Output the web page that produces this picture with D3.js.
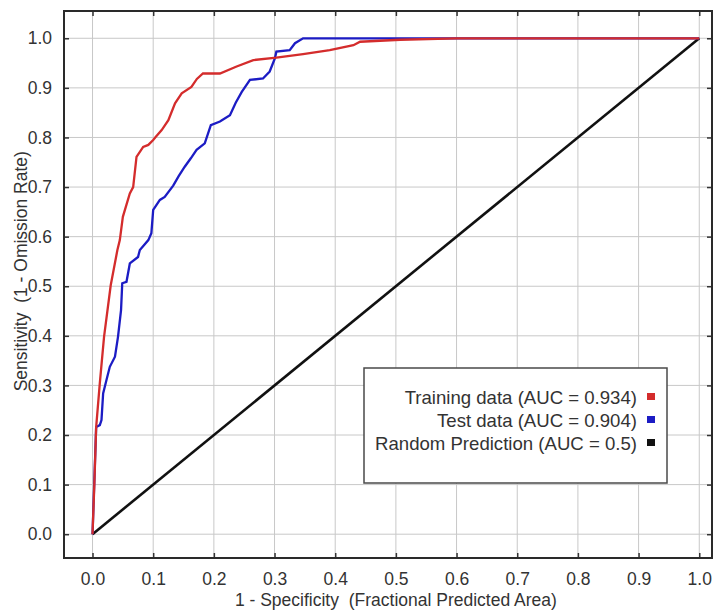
<!DOCTYPE html>
<html>
<head>
<meta charset="utf-8">
<script src="https://cdn.jsdelivr.net/npm/d3@7"></script>
<style>
  html, body { margin: 0; padding: 0; background: #ffffff; }
  svg { display: block; }
  text { font-family: "Liberation Sans", Arial, sans-serif; fill: #333333; white-space: pre; }
</style>
</head>
<body>
<svg id="chart" width="718" height="611"></svg>
<script>
// ---- Data ----
const xTicks = [0.0, 0.1, 0.2, 0.3, 0.4, 0.5, 0.6, 0.7, 0.8, 0.9, 1.0];
const yTicks = [0.0, 0.1, 0.2, 0.3, 0.4, 0.5, 0.6, 0.7, 0.8, 0.9, 1.0];

const trainingX = [0, 0.003, 0.006, 0.012, 0.019, 0.030, 0.041, 0.045, 0.050, 0.0615, 0.067, 0.0725, 0.0835, 0.092, 0.100, 0.104, 0.114, 0.125, 0.136, 0.147, 0.163, 0.172, 0.182, 0.210, 0.2375, 0.265, 0.303, 0.347, 0.391, 0.430, 0.441, 0.507, 0.600, 1.0];
const trainingY = [0, 0.100, 0.216, 0.304, 0.398, 0.502, 0.573, 0.593, 0.640, 0.687, 0.700, 0.761, 0.781, 0.785, 0.795, 0.801, 0.815, 0.835, 0.869, 0.889, 0.902, 0.918, 0.929, 0.929, 0.943, 0.956, 0.961, 0.968, 0.976, 0.986, 0.993, 0.997, 1.0, 1.0];

const testX = [0, 0.006, 0.012, 0.0148, 0.0175, 0.023, 0.0285, 0.037, 0.042, 0.047, 0.049, 0.056, 0.0615, 0.075, 0.078, 0.092, 0.097, 0.100, 0.111, 0.119, 0.133, 0.142, 0.152, 0.162, 0.1715, 0.185, 0.195, 0.210, 0.2265, 0.236, 0.246, 0.2595, 0.281, 0.292, 0.3007, 0.303, 0.325, 0.3337, 0.347, 1.0];
const testY = [0, 0.216, 0.220, 0.230, 0.284, 0.311, 0.3375, 0.358, 0.398, 0.452, 0.506, 0.509, 0.546, 0.559, 0.573, 0.593, 0.607, 0.654, 0.674, 0.680, 0.703, 0.722, 0.741, 0.758, 0.775, 0.788, 0.825, 0.832, 0.845, 0.870, 0.892, 0.916, 0.919, 0.933, 0.960, 0.973, 0.976, 0.990, 1.0, 1.0];

const randomX = [0, 1];
const randomY = [0, 1];

const seriesNames = ["Training data (AUC = 0.934)", "Test data (AUC = 0.904)", "Random Prediction (AUC = 0.5)"];
const seriesColors = ["#d42c2c", "#1c1cc4", "#111111"];

const xTitle = "1 - Specificity  (Fractional Predicted Area)";
const yTitle = "Sensitivity  (1 - Omission Rate)";

// ---- Layout ----
const svg = d3.select("#chart");
const pLeft = 64, pRight = 712, pTop = 11, pBottom = 558;

const x = d3.scaleLinear().domain([-0.047, 1.021]).range([pLeft, pRight]);
const y = d3.scaleLinear().domain([-0.048, 1.055]).range([pBottom, pTop]);

// Plot background
svg.append("rect").attr("x", pLeft).attr("y", pTop)
  .attr("width", pRight - pLeft).attr("height", pBottom - pTop).attr("fill", "#ffffff");

// Grid
const grid = svg.append("g");
grid.selectAll("line.gx").data(xTicks).join("line").attr("class", "gx")
  .attr("x1", d => x(d)).attr("x2", d => x(d))
  .attr("y1", pTop).attr("y2", pBottom)
  .attr("stroke", "#c8c8c8").attr("stroke-width", 1);
grid.selectAll("line.gy").data(yTicks).join("line").attr("class", "gy")
  .attr("y1", d => y(d)).attr("y2", d => y(d))
  .attr("x1", pLeft).attr("x2", pRight)
  .attr("stroke", "#c8c8c8").attr("stroke-width", 1);

// Axes (ticks pointing inward)
const fmt = d3.format(".1f");
const axB = svg.append("g").attr("transform", `translate(0,${pBottom})`)
  .call(d3.axisBottom(x).tickValues(xTicks).tickFormat(fmt).tickSizeInner(-5).tickSizeOuter(0).tickPadding(15));
const axT = svg.append("g").attr("transform", `translate(0,${pTop})`)
  .call(d3.axisTop(x).tickValues(xTicks).tickFormat("").tickSizeInner(-5).tickSizeOuter(0));
const axL = svg.append("g").attr("transform", `translate(${pLeft},0)`)
  .call(d3.axisLeft(y).tickValues(yTicks).tickFormat(fmt).tickSizeInner(-5).tickSizeOuter(0).tickPadding(12));
const axR = svg.append("g").attr("transform", `translate(${pRight},0)`)
  .call(d3.axisRight(y).tickValues(yTicks).tickFormat("").tickSizeInner(-5).tickSizeOuter(0));
[axB, axT, axL, axR].forEach(a => {
  a.select(".domain").remove();
  a.selectAll(".tick line").attr("stroke", "#333").attr("stroke-width", 1.5);
  a.selectAll(".tick text").attr("font-size", 17.5).attr("fill", "#3a3a3a")
    .attr("font-family", "'Liberation Sans', Arial, sans-serif");
});

// Frame
svg.append("rect").attr("x", pLeft).attr("y", pTop)
  .attr("width", pRight - pLeft).attr("height", pBottom - pTop)
  .attr("fill", "none").attr("stroke", "#2a2a2a").attr("stroke-width", 2);

// Lines
const line = d3.line().x(d => x(d[0])).y(d => y(d[1]));
const series = [
  { xs: randomX, ys: randomY, color: seriesColors[2], w: 2.6 },
  { xs: trainingX, ys: trainingY, color: seriesColors[0], w: 2.3 },
  { xs: testX, ys: testY, color: seriesColors[1], w: 2.3 }
];
const plot = svg.append("g");
[series[0], series[2], series[1]].forEach(s => {
  plot.append("path")
    .datum(s.xs.map((v, i) => [v, s.ys[i]]))
    .attr("d", line)
    .attr("fill", "none")
    .attr("stroke", s.color)
    .attr("stroke-width", s.w)
    .attr("stroke-linejoin", "miter");
});

// Axis titles
svg.append("text").attr("x", (x(0) + x(1)) / 2).attr("y", 606)
  .attr("text-anchor", "middle").attr("font-size", 17.5).text(xTitle);
svg.append("text").attr("transform", `translate(27,${(y(0) + y(1)) / 2 - 15}) rotate(-90)`)
  .attr("text-anchor", "middle").attr("font-size", 17.5).text(yTitle);

// Legend
const lg = svg.append("g");
lg.append("rect").attr("x", 364).attr("y", 368).attr("width", 303).attr("height", 115)
  .attr("fill", "#ffffff").attr("stroke", "#4a4a4a").attr("stroke-width", 1.5);
const rowsY = [397, 420, 443];
seriesNames.forEach((name, i) => {
  lg.append("text").attr("x", 637).attr("y", rowsY[i]).attr("dy", "0.35em")
    .attr("text-anchor", "end").attr("font-size", 18.6).text(name);
  lg.append("rect").attr("x", 647).attr("y", rowsY[i] - 4).attr("width", 8).attr("height", 7)
    .attr("fill", seriesColors[i]);
});
</script>
</body>
</html>
